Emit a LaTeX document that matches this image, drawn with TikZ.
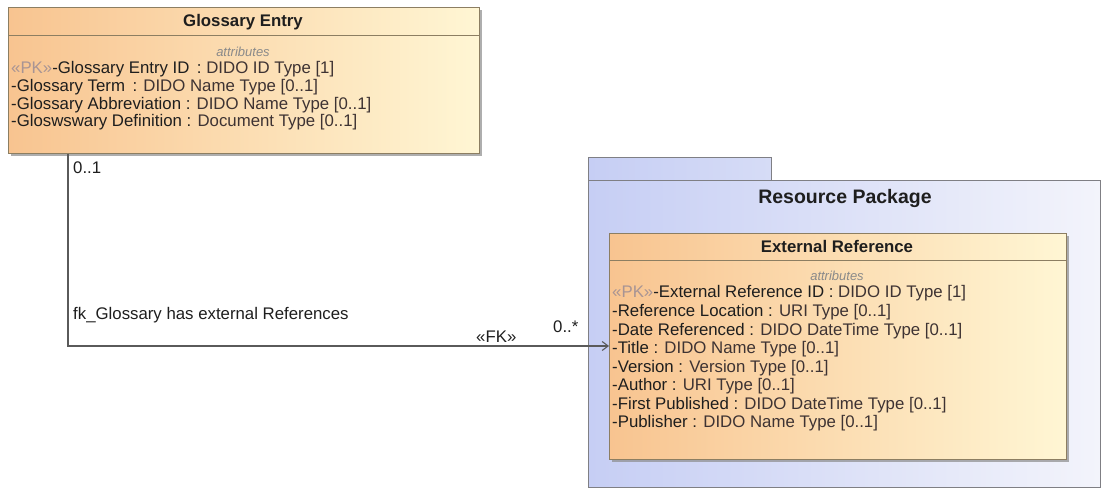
\documentclass[tikz,border=0pt]{standalone}
\usepackage{fontspec}
\setmainfont{Liberation Sans}
\usetikzlibrary{arrows.meta,shadows}
\definecolor{orangeL}{HTML}{F8C490}
\definecolor{orangeR}{HTML}{FFF6D4}
\definecolor{blueL}{HTML}{C6CEF4}
\definecolor{blueR}{HTML}{F3F4FB}
\definecolor{tabR}{HTML}{D6DCF6}
\definecolor{boxline}{HTML}{8C7E62}
\definecolor{pkline}{HTML}{7F7F84}
\definecolor{pkgray}{HTML}{A89494}
\definecolor{attrgray}{HTML}{8A8A8A}
\definecolor{nametxt}{HTML}{1E1E1E}
\definecolor{typetxt}{HTML}{3E3333}
\definecolor{conncol}{HTML}{5A5A5A}
\tikzset{
  classbox/.style={draw=boxline, line width=0.9pt, left color=orangeL, right color=orangeR,
    anchor=north west, inner sep=0pt, drop shadow={shadow xshift=3pt, shadow yshift=-3pt, fill=black!45, opacity=0.7}},
  pkgbox/.style={draw=pkline, line width=0.8pt, left color=blueL, right color=blueR, anchor=north west, inner sep=0pt},
  hdr/.style={font=\fontsize{16.8}{18}\selectfont\bfseries, text=nametxt, inner sep=0pt},
  attr/.style={font=\fontsize{16.8}{18}\selectfont, text=nametxt, anchor=west, inner sep=0pt},
  attrtitle/.style={font=\fontsize{13}{14}\selectfont\itshape, text=attrgray, inner sep=0pt},
  sep/.style={draw=boxline, line width=0.9pt},
  conn/.style={draw=conncol, line width=1.1pt},
  lbl/.style={font=\fontsize{16.8}{18}\selectfont, text=nametxt, anchor=west, inner sep=0pt}
}
\newcommand{\PKm}{\textcolor{pkgray}{«PK»}}
\newcommand{\Ty}[1]{\textcolor{typetxt}{#1}}
\begin{document}
\begin{tikzpicture}[x=1pt,y=-1pt]
\useasboundingbox (0,0) rectangle (1102,489);
% Glossary Entry class
\node[classbox, minimum width=471pt, minimum height=146pt] (ge) at (8,7) {};
\draw[sep] (8,35) -- (479,35);
\node[hdr] (geh) at (243,22) {Glossary Entry};
\node[attrtitle] (gea) at (243,52) {attributes};
\node[attr] (ge1) at (11,69) {\PKm-Glossary Entry ID \,: \Ty{DIDO ID Type [1]}};
\node[attr] (ge2) at (11,87) {-Glossary Term \,: \Ty{DIDO Name Type [0..1]}};
\node[attr] (ge3) at (11,105) {-Glossary Abbreviation : \Ty{DIDO Name Type [0..1]}};
\node[attr] (ge4) at (11,122.5) {-Gloswswary Definition : \Ty{Document Type [0..1]}};
% Resource Package
\node[pkgbox, right color=tabR, minimum width=183pt, minimum height=23pt] (tab) at (588,157) {};
\node[pkgbox, minimum width=512pt, minimum height=307pt] (pkg) at (588,180) {};
\node[hdr, font=\fontsize{19.5}{21}\selectfont\bfseries] (pkgt) at (845,199) {Resource Package};
% External Reference class
\node[classbox, minimum width=457pt, minimum height=226pt] (er) at (609,233) {};
\draw[sep] (609,260) -- (1066,260);
\node[hdr] (erh) at (837,246.5) {External Reference};
\node[attrtitle] (era) at (837,276) {attributes};
\node[attr] (er1) at (612,293.5) {\PKm-External Reference ID : \Ty{DIDO ID Type [1]}};
\node[attr] (er2) at (612,312) {-Reference Location : \Ty{URI Type [0..1]}};
\node[attr] (er3) at (612,331) {-Date Referenced : \Ty{DIDO DateTime Type [0..1]}};
\node[attr] (er4) at (612,349.5) {-Title : \Ty{DIDO Name Type [0..1]}};
\node[attr] (er5) at (612,368) {-Version : \Ty{Version Type [0..1]}};
\node[attr] (er6) at (612,386.5) {-Author : \Ty{URI Type [0..1]}};
\node[attr] (er7) at (612,405) {-First Published : \Ty{DIDO DateTime Type [0..1]}};
\node[attr] (er8) at (612,423.5) {-Publisher : \Ty{DIDO Name Type [0..1]}};
% Connector
\coordinate (gstart) at ([xshift=60pt]ge.south west);
\coordinate (lvl) at (0,346);
\draw[conn, -{Straight Barb[length=6pt,width=9pt]}] (gstart) |- (er.west |- lvl);
\node[lbl] (m1) at (73,168) {0..1};
\node[lbl] (cname) at (73,315) {fk\_Glossary has external References};
\node[lbl] (fk) at (476,337) {«FK»};
\node[lbl] (m2) at (553,327) {0..*};
\end{tikzpicture}
\end{document}
